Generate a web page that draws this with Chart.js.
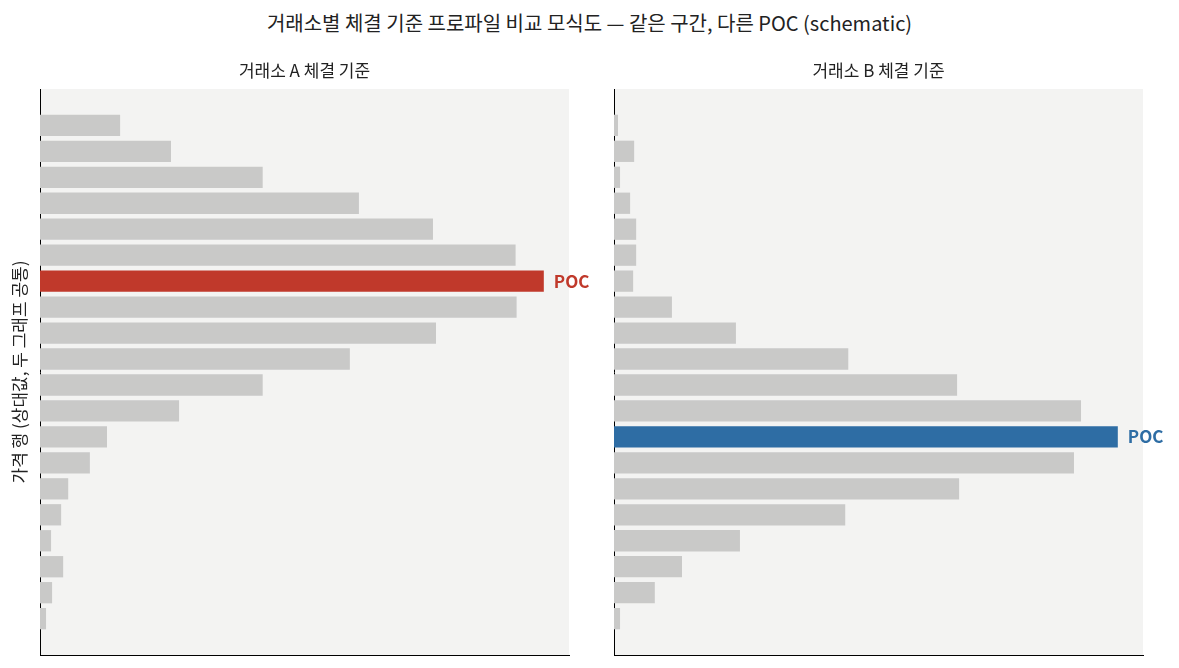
<!DOCTYPE html>
<html><head><meta charset="utf-8">
<script src="https://cdn.jsdelivr.net/npm/chart.js@4"></script>
<style>
body{margin:0;width:1179px;height:668px;background:#fff;font-family:"Noto Sans CJK KR";position:relative;overflow:hidden}
#ttl{position:absolute;top:8px;left:0;width:1179px;text-align:center;font-size:20px;color:#222}
.cv{position:absolute;top:55px;height:610px}
</style></head><body>
<div id="ttl">거래소별 체결 기준 프로파일 비교 모식도 — 같은 구간, 다른 POC (schematic)</div>
<div class="cv" style="left:0;width:610px"><canvas id="cA"></canvas></div>
<div class="cv" style="left:580px;width:599px"><canvas id="cB"></canvas></div>
<script>
// 가격 행 0 = 위쪽
var valuesA=[15.9,26,44.2,63.3,78,94.4,100,94.6,78.6,61.5,44.2,27.6,13.3,9.9,5.6,4.2,2.2,4.6,2.4,1.2];
var valuesB=[0.8,4,1.2,3.2,4.4,4.4,3.8,11.5,24.2,46.5,68.1,92.7,100,91.3,68.5,45.9,25,13.5,8.1,1.2];
var pocA=6, pocB=12;
var FONT='"Noto Sans CJK KR"';

function mk(id,vals,poc,col,sub,yTitle,pad){
  var bgs=vals.map(function(v,i){return i===poc?col:'#c9c9c8';});
  var deco={id:'deco',
    beforeDraw:function(c){var a=c.chartArea,x=c.ctx;x.save();x.fillStyle='#f3f3f2';x.fillRect(a.left,a.top,a.right-a.left,a.bottom-a.top);x.restore();},
    afterDraw:function(c){
      var a=c.chartArea,x=c.ctx;x.save();
      x.fillStyle='#222';x.font='17px '+FONT;x.textAlign='center';x.textBaseline='middle';
      x.fillText(sub,(a.left+a.right)/2,16);
      if(yTitle){x.save();x.translate(20,(a.top+a.bottom)/2);x.rotate(-Math.PI/2);x.fillText(yTitle,0,0);x.restore();}
      var b=c.getDatasetMeta(0).data[poc];
      x.fillStyle=col;x.font='bold 17px '+FONT;x.textAlign='left';
      x.fillText('POC',b.x+10,b.y);
      x.restore();}};
  new Chart(document.getElementById(id),{type:'bar',
    data:{datasets:[{data:vals.map(function(v,i){return{x:v,y:i};}),backgroundColor:bgs,barPercentage:0.82,categoryPercentage:1}]},
    options:{indexAxis:'y',responsive:true,maintainAspectRatio:false,animation:false,
      layout:{padding:pad},
      plugins:{legend:{display:false},tooltip:{enabled:false}},
      scales:{
        x:{min:0,max:105,ticks:{display:false},grid:{display:false},border:{color:'#000'}},
        y:{type:'linear',min:-1.4,max:20.4,offset:false,reverse:true,ticks:{display:false},grid:{display:false},border:{color:'#000'}}}},
    plugins:[deco]});
}
mk('cA',valuesA,pocA,'#c0392b','거래소 A 체결 기준','가격 행 (상대값, 두 그래프 공통)',{left:32,top:34,right:41,bottom:2});
mk('cB',valuesB,pocB,'#2e6da4','거래소 B 체결 기준',null,{left:26,top:34,right:36,bottom:2});
</script></body></html>
